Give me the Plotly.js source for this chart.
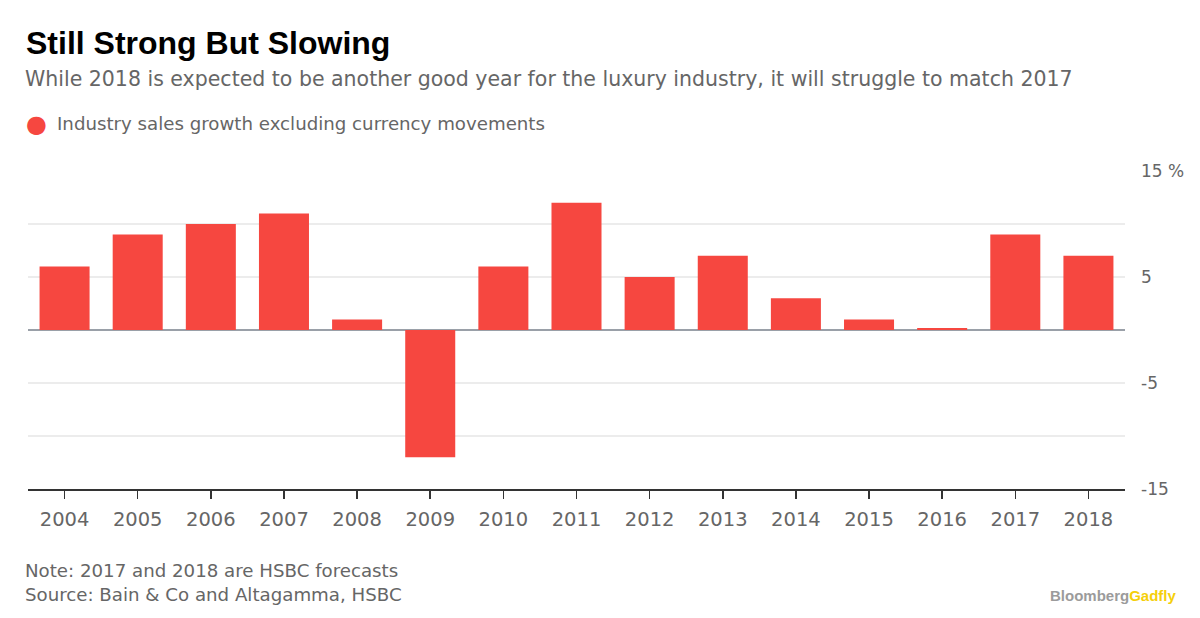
<!DOCTYPE html>
<html>
<head>
<meta charset="utf-8">
<script src="https://cdn.plot.ly/plotly-3.0.1.min.js"></script>
<style>html,body{margin:0;padding:0;background:#fff;}#chart{width:1200px;height:618px;}</style>
</head>
<body>
<div id="chart"></div>
<script>
const years = ['2004','2005','2006','2007','2008','2009','2010','2011','2012','2013','2014','2015','2016','2017','2018'];
const growth = [6, 9, 10, 11, 1, -12, 6, 12, 5, 7, 3, 1, 0.2, 9, 7];
const yTickVals = [-15, -10, -5, 0, 5, 10, 15];
const yTickText = ['-15', '', '-5', '', '5', '', '15 %'];
const seriesName = 'Industry sales growth excluding currency movements';

const L = 28, R = 1125, T = 171, B = 489;
const px = x => (x - L) / (R - L);
const py = y => (B - y) / (B - T);
const FONT = '"DejaVu Sans", sans-serif';

const trace = {
  type: 'bar', x: years, y: growth, name: seriesName,
  marker: {color: '#f64740', line: {width: 0}},
  hoverinfo: 'x+y'
};

const layout = {
  width: 1200, height: 618,
  margin: {l: L, r: 1200 - R, t: T, b: 618 - B, pad: 0},
  paper_bgcolor: '#fff', plot_bgcolor: '#fff',
  showlegend: false,
  bargap: 0.316,
  font: {family: FONT, color: '#666'},
  xaxis: {
    type: 'category', showgrid: false, showline: true, linecolor: '#333', linewidth: 1.5,
    ticks: 'outside', ticklen: 8, tickcolor: '#333', tickwidth: 1.5, ticklabelstandoff: 4,
    tickfont: {size: 19.5, color: '#666', family: FONT}, fixedrange: true
  },
  yaxis: {
    side: 'right', range: [-15, 15], tickvals: yTickVals, ticktext: yTickText,
    showgrid: true, gridcolor: '#ececec', gridwidth: 1.5,
    zeroline: true, zerolinecolor: '#9aa0a8', zerolinewidth: 1.5,
    showline: false, ticks: '', ticklabelstandoff: 15,
    tickfont: {size: 17, color: '#666', family: FONT}, fixedrange: true
  },
  annotations: [
    {text: '<b>Still Strong But Slowing</b>', xref: 'paper', yref: 'paper', x: px(24), y: py(43),
     xanchor: 'left', yanchor: 'middle', showarrow: false, font: {size: 32, color: '#000', family: '"Liberation Sans", Arial, sans-serif'}},
    {text: 'While 2018 is expected to be another good year for the luxury industry, it will struggle to match 2017',
     xref: 'paper', yref: 'paper', x: px(23), y: py(79), xanchor: 'left', yanchor: 'middle', showarrow: false,
     font: {size: 20.5, color: '#666', family: FONT}},
    {text: '●', xref: 'paper', yref: 'paper', x: px(36), y: py(124), xanchor: 'center', yanchor: 'middle', showarrow: false,
     font: {size: 24, color: '#f64740', family: FONT}},
    {text: seriesName, xref: 'paper', yref: 'paper', x: px(55), y: py(124), xanchor: 'left', yanchor: 'middle', showarrow: false,
     font: {size: 18.2, color: '#666', family: FONT}},
    {text: 'Note: 2017 and 2018 are HSBC forecasts', xref: 'paper', yref: 'paper', x: px(23), y: py(570),
     xanchor: 'left', yanchor: 'middle', showarrow: false, font: {size: 18.2, color: '#666', family: FONT}},
    {text: 'Source: Bain & Co and Altagamma, HSBC', xref: 'paper', yref: 'paper', x: px(23), y: py(594),
     xanchor: 'left', yanchor: 'middle', showarrow: false, font: {size: 18.2, color: '#666', family: FONT}},
    {text: '<b><span style="color:#9b9b9b">Bloomberg</span><span style="color:#f5cf0a">Gadfly</span></b>',
     xref: 'paper', yref: 'paper', x: px(1179), y: py(595), xanchor: 'right', yanchor: 'middle', showarrow: false,
     font: {size: 15, family: '"Liberation Sans", Arial, sans-serif'}}
  ]
};

Plotly.newPlot('chart', [trace], layout, {displayModeBar: false, staticPlot: true});
</script>
</body>
</html>
